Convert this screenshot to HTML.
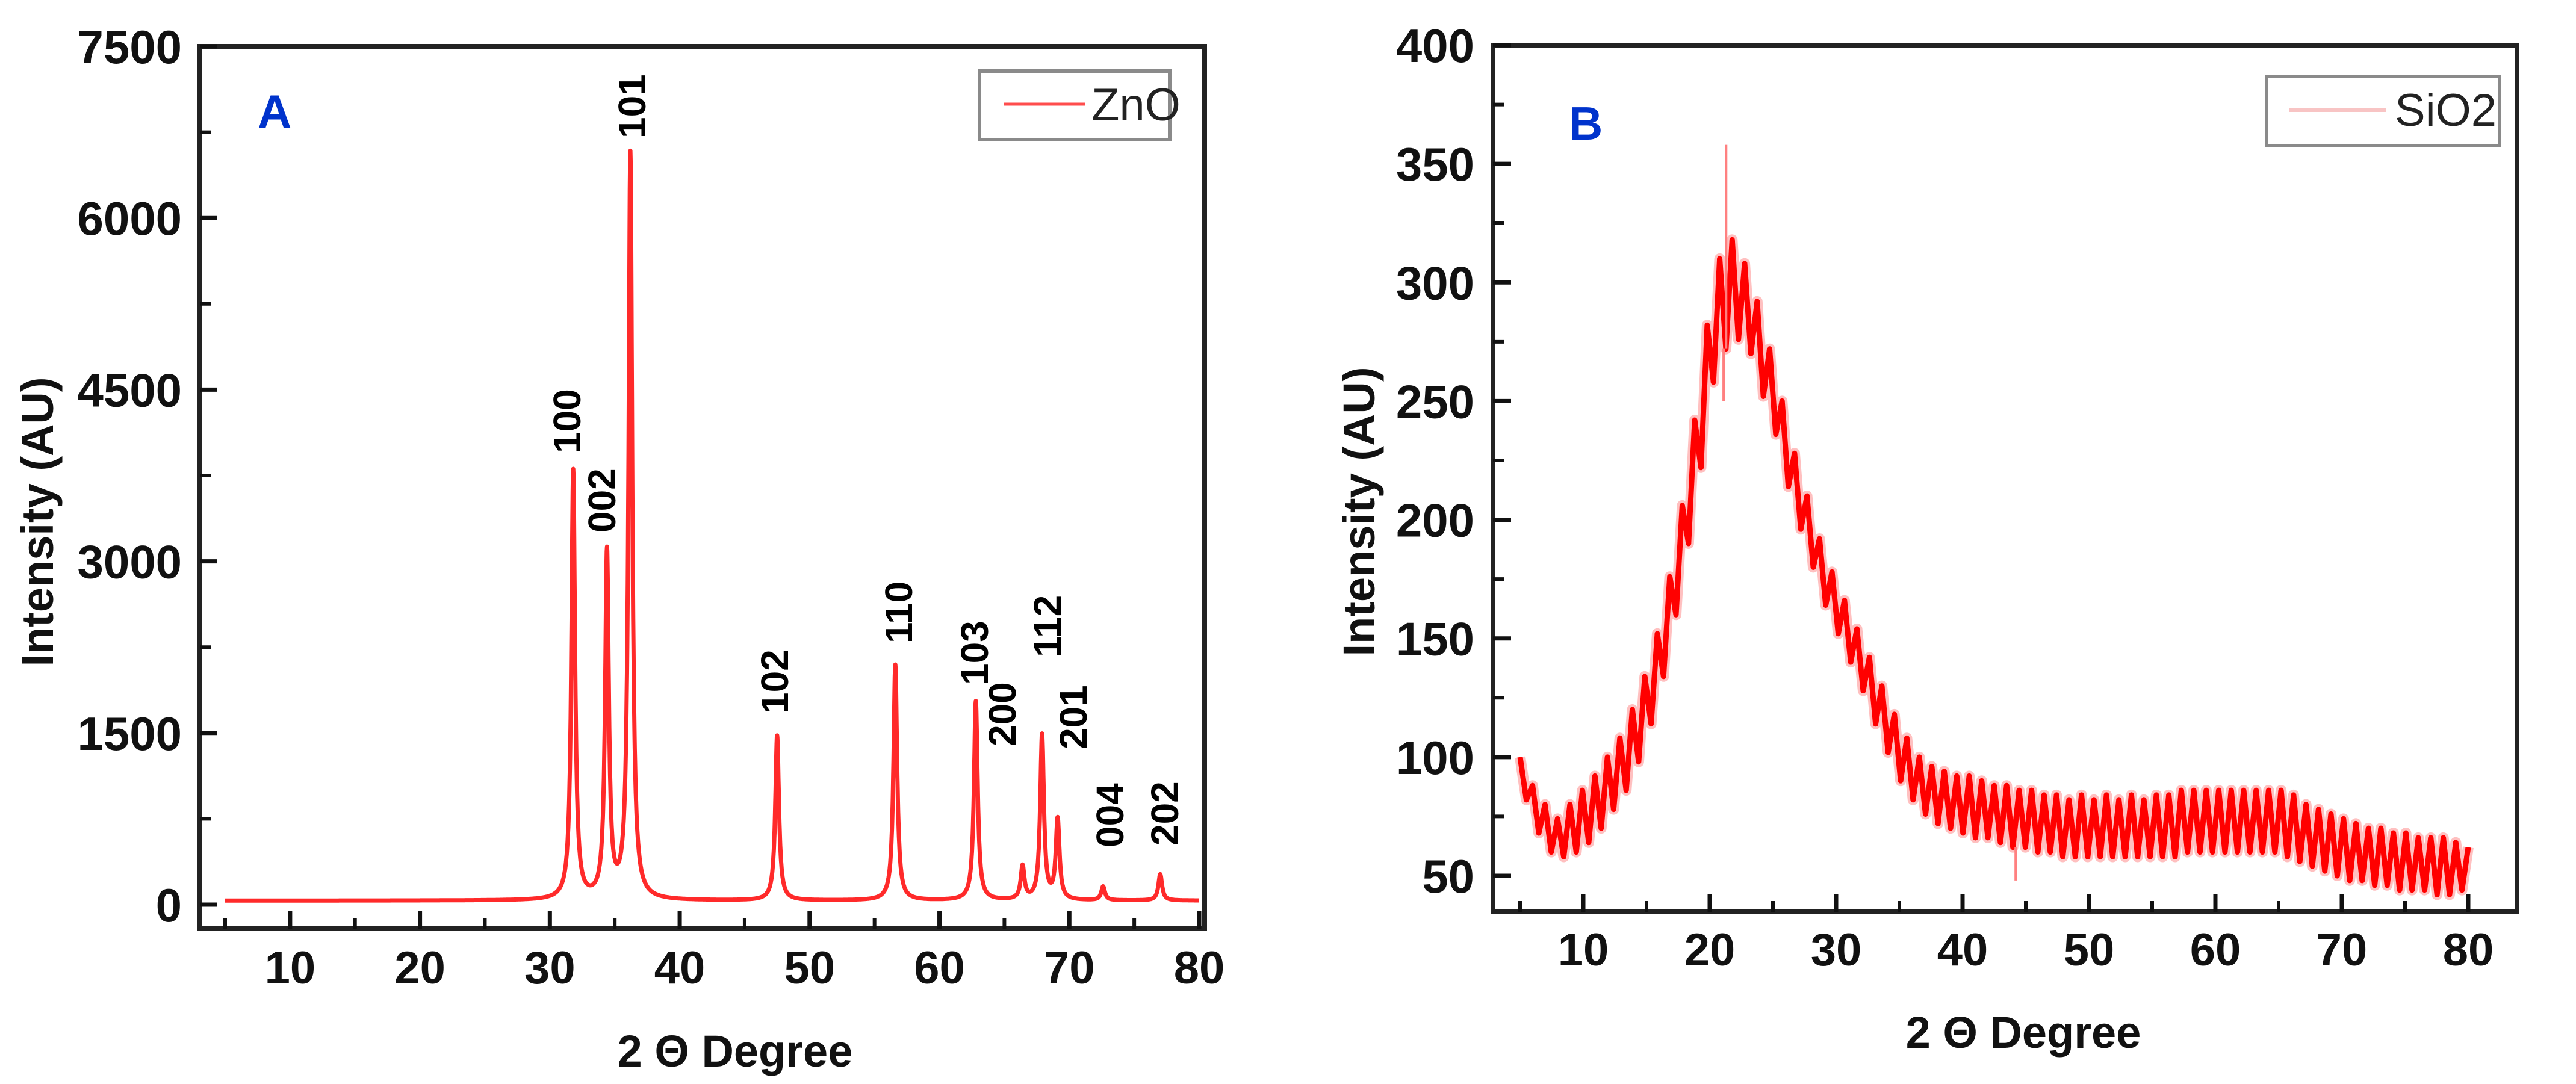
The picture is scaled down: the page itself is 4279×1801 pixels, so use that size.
<!DOCTYPE html>
<html><head><meta charset="utf-8"><style>
html,body{margin:0;padding:0;background:#fff;}
svg{display:block;}
text{font-family:"Liberation Sans",Arial,sans-serif;}
</style></head><body>
<svg id="fig" width="4279" height="1801" viewBox="0 0 4279 1801" xmlns="http://www.w3.org/2000/svg">
<rect x="0" y="0" width="4279" height="1801" fill="#fff"/>
<g id="panelA"></g>
<g id="panelB"></g>
</svg>
<script>
// ---- Panel A data (ZnO) ----
const znoPeakPos = [31.8, 34.4, 36.2, 47.5, 56.6, 62.8, 66.4, 67.9, 69.1, 72.6, 77.0];
const znoPeakHeight = [3750, 3020, 6520, 1440, 2060, 1740, 290, 1440, 700, 120, 230];
const znoPeakLabels = ["100","002","101","102","110","103","200","112","201","004","202"];
const znoBaseline = 35;
const aYTicks = [0, 1500, 3000, 4500, 6000, 7500];
const aYTickLabels = ["0","1500","3000","4500","6000","7500"];
const xTicks = [10, 20, 30, 40, 50, 60, 70, 80];
const xTickLabels = ["10","20","30","40","50","60","70","80"];
// ---- Panel B data (SiO2), sampled evenly from 5 to 80 ----
const sioStart = 5, sioEnd = 80;
const sioValues = [100,82,88,68,80,60,74,58,80,60,86,64,92,70,100,78,108,86,120,98,134,114,152,134,176,160,206,190,242,222,282,258,310,272,318,276,308,270,292,252,272,236,250,214,228,196,210,180,192,164,178,152,166,140,154,128,142,114,130,102,118,90,108,82,100,76,96,72,94,70,92,68,92,66,90,66,88,64,88,62,86,62,86,60,84,60,84,58,82,58,84,58,82,58,84,58,82,58,84,58,82,58,84,58,84,58,86,60,86,60,86,60,86,60,86,60,86,60,86,60,86,60,86,58,84,56,80,54,78,52,76,50,74,48,72,48,70,46,70,46,68,44,68,44,66,44,66,42,66,42,64,44,62];
const sioSpikeX = [21.3, 21.1, 44.2];
const sioSpikeY = [358, 250, 48];
const bYTicks = [50, 100, 150, 200, 250, 300, 350, 400];
const bYTickLabels = ["50","100","150","200","250","300","350","400"];

const NS = "http://www.w3.org/2000/svg";
function mk(parent, tag, attrs, txt){
  const e = document.createElementNS(NS, tag);
  for (const k in attrs) e.setAttribute(k, attrs[k]);
  if (txt !== undefined) e.textContent = txt;
  parent.appendChild(e);
  return e;
}

const A = {x0:374, x1:1992, xmin:5, xmax:80, y0:1503, y1:77, ymin:0, ymax:7500, L:332, R:2001, T:77, B:1543};
function ax(v){return A.x0 + (v - A.xmin) / (A.xmax - A.xmin) * (A.x1 - A.x0);}
function ay(v){return A.y0 - (v - A.ymin) / (A.ymax - A.ymin) * (A.y0 - A.y1);}
const B = {x0:2525, x1:4100, xmin:5, xmax:80, y0:1455, y1:75, ymin:50, ymax:400, L:2480, R:4181, T:75, B:1515};
function bx(v){return B.x0 + (v - B.xmin) / (B.xmax - B.xmin) * (B.x1 - B.x0);}
function by(v){return B.y0 - (v - B.ymin) / (B.ymax - B.ymin) * (B.y0 - B.y1);}

const gA = document.getElementById('panelA');
const gB = document.getElementById('panelB');

// ---- Panel A series ----
let d = "";
for (let t = 5; t <= 80.0001; t += 0.02) {
  let v = znoBaseline;
  for (let i = 0; i < znoPeakPos.length; i++) {
    const w = 0.17;
    const dx = (t - znoPeakPos[i]) / w;
    v += znoPeakHeight[i] / (1 + dx * dx);
  }
  d += (d ? "L" : "M") + ax(t).toFixed(1) + "," + ay(v).toFixed(1);
}
const lineA = mk(gA, 'path', {d:d, fill:'none', stroke:'#ff2a2a', 'stroke-width':7, 'stroke-linejoin':'round'});



// peak labels (placement in pixels)
const labelX = [942, 1000, 1050, 1287, 1493, 1619, 1665, 1740, 1783, 1844, 1935];
const labelBottom = [753, 885, 230, 1186, 1069, 1138, 1240, 1092, 1245, 1408, 1405];
for (let i = 0; i < znoPeakLabels.length; i++) {
  const t = mk(gA, 'text', {x:0, y:0, transform:`translate(${labelX[i] + 22},${labelBottom[i]}) rotate(-90)`, 'font-size':64, 'font-weight':'bold', fill:'#000'}, znoPeakLabels[i]);
  
  
}

function frame(g, P, name){
  const r = mk(g, 'rect', {x:P.L, y:P.T, width:P.R - P.L, height:P.B - P.T, fill:'none', stroke:'#222', 'stroke-width':8});
  
  
}
frame(gA, A, 'plot-frame-a');
for (let i = 0; i < aYTicks.length; i++) {
  const y = ay(aYTicks[i]);
  mk(gA, 'line', {x1:A.L, x2:A.L + 28, y1:y, y2:y, stroke:'#111', 'stroke-width':7});
  const t = mk(gA, 'text', {x:302, y:y + 28, 'text-anchor':'end', 'font-size':78, 'font-weight':'bold', fill:'#111'}, aYTickLabels[i]);
  
  
  if (i < aYTicks.length - 1) {
    const ym = ay(aYTicks[i] + 750);
    mk(gA, 'line', {x1:A.L, x2:A.L + 18, y1:ym, y2:ym, stroke:'#111', 'stroke-width':6});
  }
}
for (let i = 0; i < xTicks.length; i++) {
  const x = ax(xTicks[i]);
  mk(gA, 'line', {x1:x, x2:x, y1:A.B, y2:A.B - 30, stroke:'#111', 'stroke-width':7});
  const xm = ax(xTicks[i] - 5);
  mk(gA, 'line', {x1:xm, x2:xm, y1:A.B, y2:A.B - 18, stroke:'#111', 'stroke-width':6});
  const t = mk(gA, 'text', {x:x, y:1634, 'text-anchor':'middle', 'font-size':76, 'font-weight':'bold', fill:'#111'}, xTickLabels[i]);
  
  
}
let tt = mk(gA, 'text', {x:1221, y:1772, 'text-anchor':'middle', 'font-size':74, 'font-weight':'bold', fill:'#111'}, "2 Θ Degree");
 
tt = mk(gA, 'text', {x:0, y:0, transform:'translate(88,867) rotate(-90)', 'text-anchor':'middle', 'font-size':74, 'font-weight':'bold', fill:'#111'}, "Intensity (AU)");
 
tt = mk(gA, 'text', {x:428, y:212, 'font-family':'Liberation Serif, serif', 'font-size':78, 'font-weight':'bold', fill:'#0033cc'}, "A");
 
const lgA = mk(gA, 'g', {});
 
mk(lgA, 'rect', {x:1627, y:118, width:316, height:114, fill:'#fff', stroke:'#8a8a8a', 'stroke-width':6});
mk(lgA, 'line', {x1:1668, x2:1802, y1:173, y2:173, stroke:'#ff4d4d', 'stroke-width':5});
mk(lgA, 'text', {x:1813, y:200, 'font-size':76, fill:'#222'}, "ZnO");

// ---- Panel B ----
let pts = [];
const n = sioValues.length;
for (let i = 0; i < n; i++) {
  const xv = sioStart + i * (sioEnd - sioStart) / (n - 1);
  pts.push(bx(xv).toFixed(1) + "," + by(sioValues[i]).toFixed(1));
}
const bandB = mk(gB, 'polyline', {points:pts.join(" "), fill:'none', stroke:'#ffb0b0', 'stroke-width':18, 'stroke-linejoin':'round', opacity:0.8});


const lineB = mk(gB, 'polyline', {points:pts.join(" "), fill:'none', stroke:'#ff0000', 'stroke-width':9, 'stroke-linejoin':'round'});


for (let i = 0; i < sioSpikeX.length; i++) {
  const x = bx(sioSpikeX[i]);
  const base = sioValues[Math.round((sioSpikeX[i] - sioStart) / (sioEnd - sioStart) * (n - 1))];
  const s = mk(gB, 'line', {x1:x, x2:x, y1:by(base), y2:by(sioSpikeY[i]), stroke:'#ff8080', 'stroke-width':4});
  
  
}
frame(gB, B, 'plot-frame-b');
for (let i = 0; i < bYTicks.length; i++) {
  const y = by(bYTicks[i]);
  mk(gB, 'line', {x1:B.L, x2:B.L + 30, y1:y, y2:y, stroke:'#111', 'stroke-width':7});
  const t = mk(gB, 'text', {x:2449, y:y + 28, 'text-anchor':'end', 'font-size':78, 'font-weight':'bold', fill:'#111'}, bYTickLabels[i]);
  
  
  if (i < bYTicks.length - 1) {
    const ym = by(bYTicks[i] + 25);
    mk(gB, 'line', {x1:B.L, x2:B.L + 18, y1:ym, y2:ym, stroke:'#111', 'stroke-width':6});
  }
}
for (let i = 0; i < xTicks.length; i++) {
  const x = bx(xTicks[i]);
  mk(gB, 'line', {x1:x, x2:x, y1:B.B, y2:B.B - 30, stroke:'#111', 'stroke-width':7});
  const xm = bx(xTicks[i] - 5);
  mk(gB, 'line', {x1:xm, x2:xm, y1:B.B, y2:B.B - 18, stroke:'#111', 'stroke-width':6});
  const t = mk(gB, 'text', {x:x, y:1604, 'text-anchor':'middle', 'font-size':76, 'font-weight':'bold', fill:'#111'}, xTickLabels[i]);
  
  
}
tt = mk(gB, 'text', {x:3361, y:1741, 'text-anchor':'middle', 'font-size':74, 'font-weight':'bold', fill:'#111'}, "2 Θ Degree");
 
tt = mk(gB, 'text', {x:0, y:0, transform:'translate(2283,850) rotate(-90)', 'text-anchor':'middle', 'font-size':74, 'font-weight':'bold', fill:'#111'}, "Intensity (AU)");
 
tt = mk(gB, 'text', {x:2606, y:232, 'font-family':'Liberation Serif, serif', 'font-size':78, 'font-weight':'bold', fill:'#0033cc'}, "B");
 
const lgB = mk(gB, 'g', {});
 
mk(lgB, 'rect', {x:3765, y:127, width:387, height:115, fill:'#fff', stroke:'#8a8a8a', 'stroke-width':6});
mk(lgB, 'line', {x1:3803, x2:3963, y1:183, y2:183, stroke:'#f8c4c4', 'stroke-width':6});
mk(lgB, 'text', {x:3978, y:209, 'font-size':76, fill:'#222'}, "SiO2");
</script>
</body></html>
